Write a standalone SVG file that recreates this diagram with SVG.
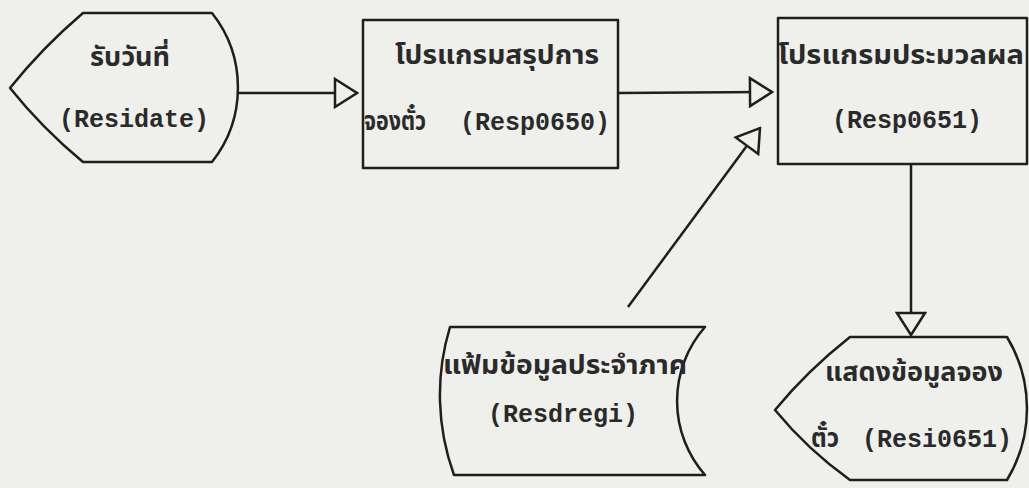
<svg xmlns="http://www.w3.org/2000/svg" width="1029" height="488" viewBox="0 0 1029 488">
<style>
.shape{fill:none;stroke:#1e1e1e;stroke-width:2.5;stroke-linejoin:round}
.conn{fill:none;stroke:#1e1e1e;stroke-width:2.5}
.t{font-family:"Liberation Mono","DejaVu Sans Mono","Noto Sans",monospace;font-size:25px;font-weight:bold;fill:#2a2a2a}
.th{font-family:"Noto Sans Thai","Noto Sans","DejaVu Sans","Liberation Mono",sans-serif;font-size:26px;font-weight:bold;fill:#2a2a2a}
</style>
<defs>
<marker id="tri" markerUnits="userSpaceOnUse" markerWidth="26" markerHeight="32" viewBox="0 0 26 32" refX="24" refY="16" orient="auto">
<path d="M2,2 L24,16 L2,30 Z" fill="#efefec" stroke="#1e1e1e" stroke-width="2.5" stroke-linejoin="miter"/>
</marker>
</defs>
<rect x="0" y="0" width="1029" height="488" fill="#efefec"/>
<g id="connectors">
<line class="conn" x1="238" y1="93" x2="357" y2="93" marker-end="url(#tri)"/>
<line class="conn" x1="618" y1="93" x2="772" y2="92" marker-end="url(#tri)"/>
<line class="conn" x1="628" y1="307" x2="760" y2="128" marker-end="url(#tri)"/>
<line class="conn" x1="911" y1="164" x2="911" y2="335" marker-end="url(#tri)"/>
</g>
<g id="node-residate">
<path class="shape" d="M83,13 L212,13 A120,120 0 0 1 212,162 L83,162 Q42,128 10,88 Q42,48 83,13 Z"/>
<text class="th" x="130" y="66" text-anchor="middle" textLength="80" lengthAdjust="spacingAndGlyphs">รับวันที่</text>
<text class="t" x="134" y="127" text-anchor="middle">(Residate)</text>
</g>
<g id="node-resp0650">
<rect class="shape" x="363" y="20" width="255" height="148"/>
<text class="th" x="497" y="64" text-anchor="middle" textLength="204" lengthAdjust="spacingAndGlyphs">โปรแกรมสรุปการ</text>
<text class="th" x="364" y="130" textLength="62" lengthAdjust="spacingAndGlyphs">จองตั๋ว</text>
<text class="t" x="460" y="130">(Resp0650)</text>
</g>
<g id="node-resp0651">
<rect class="shape" x="778" y="18" width="249" height="146"/>
<text class="th" x="901" y="64" text-anchor="middle" textLength="246" lengthAdjust="spacingAndGlyphs">โปรแกรมประมวลผล</text>
<text class="t" x="907" y="128" text-anchor="middle">(Resp0651)</text>
</g>
<g id="node-resdregi">
<path class="shape" d="M450,327 L705,327 A112,112 0 0 0 705,475 L454,475 A234,234 0 0 1 450,327 Z"/>
<text class="th" x="565" y="374" text-anchor="middle" textLength="244" lengthAdjust="spacingAndGlyphs">แฟ้มข้อมูลประจำภาค</text>
<text class="t" x="563" y="422" text-anchor="middle">(Resdregi)</text>
</g>
<g id="node-resi0651">
<path class="shape" d="M850,337 L1007,337 A138,138 0 0 1 1007,480 L850,480 Q808,450 775,410 Q808,370 850,337 Z"/>
<text class="th" x="914" y="381" text-anchor="middle" textLength="178" lengthAdjust="spacingAndGlyphs">แสดงข้อมูลจอง</text>
<text class="th" x="811" y="447" textLength="28" lengthAdjust="spacingAndGlyphs">ตั๋ว</text>
<text class="t" x="862" y="447">(Resi0651)</text>
</g>
</svg>
